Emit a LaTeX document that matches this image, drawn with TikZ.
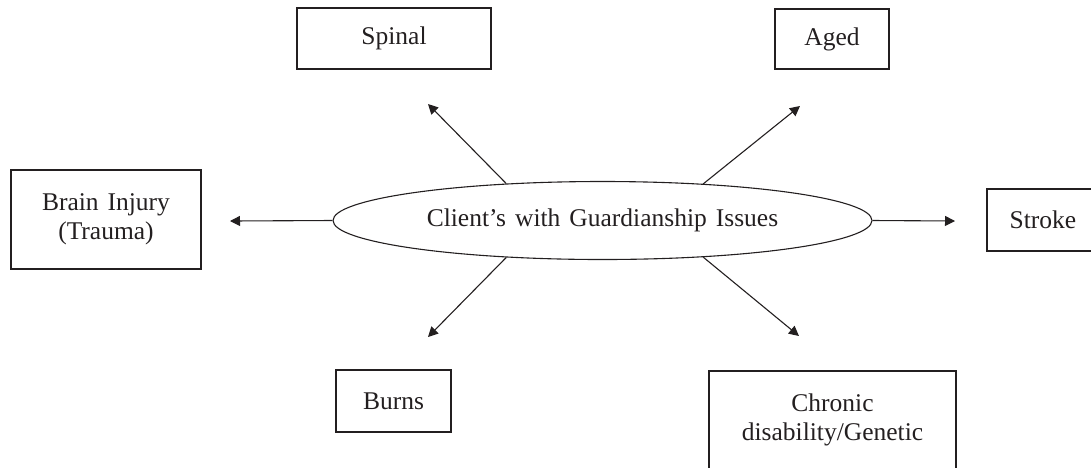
\documentclass[tikz,border=0pt]{standalone}
\usepackage{fontspec}
\setmainfont{Liberation Serif}
\usetikzlibrary{arrows.meta,shapes.geometric}
\definecolor{ink}{RGB}{35,31,32}
\newcommand\widewords{\spaceskip=9pt plus 2pt\relax}
\tikzset{
  label text/.style={font=\fontsize{25.5}{28.5}\selectfont, text=ink, align=center,
    execute at begin node=\widewords},
  catbox/.style={label text, draw=ink, line width=1.3pt, inner sep=0pt, rectangle},
  hubshape/.style={label text, draw=ink, line width=1.1pt, ellipse, inner sep=0pt,
    minimum width=539pt, minimum height=78pt},
  link/.style={draw=ink, line width=1.1pt, -{Triangle[length=10pt,width=10pt]}}
}
\begin{document}
\begin{tikzpicture}[x=1pt,y=-1pt]
  \useasboundingbox (0,0) rectangle (1091,467);

  % central topic
  \node[hubshape] (hub) at (602.5,220.5) {Client's with Guardianship Issues};

  % categories around it
  \node[catbox, minimum width=194pt, minimum height=61pt] (spinal) at (394,38.5) {Spinal};
  \node[catbox, minimum width=114pt, minimum height=60pt] (aged) at (832,39) {Aged};
  \node[catbox, minimum width=190pt, minimum height=99pt] (brain) at (106,219.5) {Brain Injury\\(Trauma)};
  \node[catbox, minimum width=112pt, minimum height=62pt] (stroke) at (1043,220) {Stroke};
  \node[catbox, minimum width=115pt, minimum height=62pt] (burns) at (393.5,401) {Burns};
  \node[catbox, minimum width=247pt, minimum height=98pt] (chronic) at (832.5,420) {Chronic\\disability/Genetic};

  % arrow ends
  \coordinate (tipSpinal) at (428,104);
  \coordinate (tipAged) at (800,106);
  \coordinate (tipBrain) at (230,221);
  \coordinate (tipStroke) at (955,221);
  \coordinate (tipBurns) at (428,337);
  \coordinate (tipChronic) at (799,336);

  % arrows leaving the ellipse
  \draw[link] (hub.159.5) -- (tipSpinal);
  \draw[link] (hub.20.5) -- (tipAged);
  \draw[link] (hub.west) -- (tipBrain);
  \draw[link] (hub.east) -- (tipStroke);
  \draw[link] (hub.-159.5) -- (tipBurns);
  \draw[link] (hub.-20.5) -- (tipChronic);
\end{tikzpicture}
\end{document}
